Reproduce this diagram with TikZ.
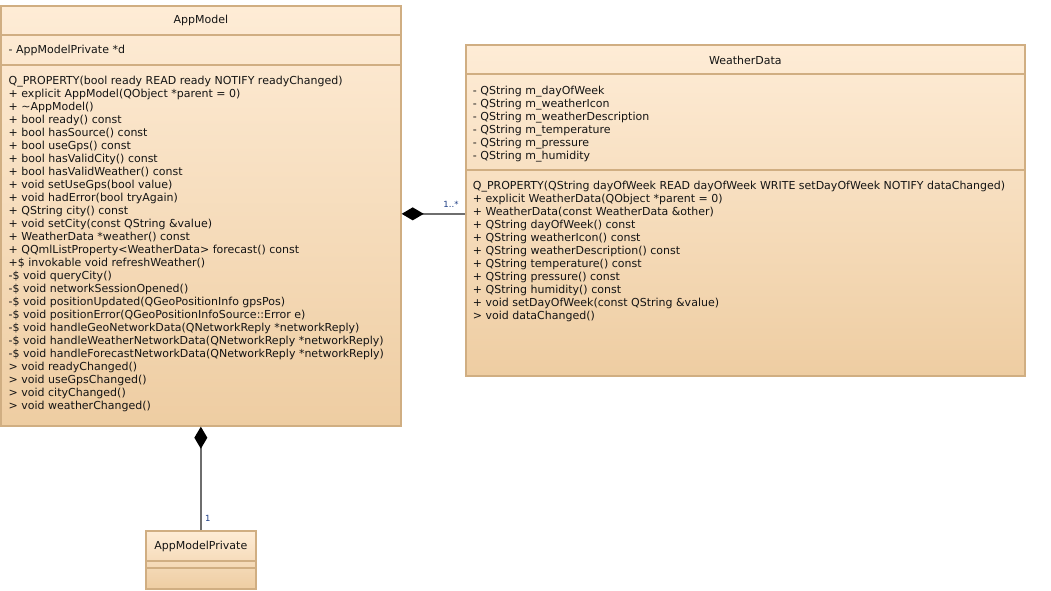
\documentclass[tikz,border=0pt]{standalone}
\usepackage{fontspec}
\setmainfont{DejaVu Sans}
\usetikzlibrary{arrows.meta,calc}

\definecolor{umlfilltop}{HTML}{FEECD6}
\definecolor{umlfillbot}{HTML}{EECDA2}
\definecolor{umlborder}{HTML}{D0AE82}
\definecolor{umltext}{HTML}{141414}
\definecolor{umllink}{HTML}{6E6E6E}
\definecolor{umlmult}{HTML}{1C3C84}

\tikzset{
  classbox/.style={draw=umlborder, line width=1.7pt, top color=umlfilltop,
    bottom color=umlfillbot, inner sep=0pt, anchor=north west},
  compsep/.style={draw=umlborder, line width=1.4pt},
  members/.style={anchor=north west, inner sep=0pt, align=left, text=umltext,
    font=\fontsize{11}{13}\selectfont},
  classname/.style={text=umltext, inner sep=0pt, font=\fontsize{11}{13}\selectfont},
  composition/.style={draw=umllink, line width=1.5pt,
    -{Diamond[length=22pt,width=13pt,color=black,fill=black]}},
  mult/.style={text=umlmult, inner sep=0pt, font=\fontsize{8.5}{10}\selectfont},
}

\begin{document}
\begin{tikzpicture}[x=1pt,y=-1pt]
\useasboundingbox (0,0) rectangle (1051,591);

% ---------- AppModel ----------
\node[classbox, minimum width=400pt, minimum height=420pt] (appmodel) at (0,5) {};
\draw[compsep] ([yshift=-30pt]appmodel.north west) -- ([yshift=-30pt]appmodel.north east);
\draw[compsep] ([yshift=-60pt]appmodel.north west) -- ([yshift=-60pt]appmodel.north east);
\node[classname] (appmodel-name) at ($(appmodel.north)+(0,15)$) {AppModel};
\node[members] (appmodel-attrs) at (8.5,45) {- AppModelPrivate *d};
\node[members] (appmodel-ops) at (8.5,76) {%
Q\_PROPERTY(bool ready READ ready NOTIFY readyChanged)\\
+ explicit AppModel(QObject *parent = 0)\\
+ \textasciitilde AppModel()\\
+ bool ready() const\\
+ bool hasSource() const\\
+ bool useGps() const\\
+ bool hasValidCity() const\\
+ bool hasValidWeather() const\\
+ void setUseGps(bool value)\\
+ void hadError(bool tryAgain)\\
+ QString city() const\\
+ void setCity(const QString \&value)\\
+ WeatherData *weather() const\\
+ QQmlListProperty<WeatherData> forecast() const\\
+\$ invokable void refreshWeather()\\
-\$ void queryCity()\\
-\$ void networkSessionOpened()\\
-\$ void positionUpdated(QGeoPositionInfo gpsPos)\\
-\$ void positionError(QGeoPositionInfoSource::Error e)\\
-\$ void handleGeoNetworkData(QNetworkReply *networkReply)\\
-\$ void handleWeatherNetworkData(QNetworkReply *networkReply)\\
-\$ void handleForecastNetworkData(QNetworkReply *networkReply)\\
> void readyChanged()\\
> void useGpsChanged()\\
> void cityChanged()\\
> void weatherChanged()};

% ---------- WeatherData ----------
\node[classbox, minimum width=559pt, minimum height=331pt] (weatherdata) at (465,44) {};
\draw[compsep] ([yshift=-30pt]weatherdata.north west) -- ([yshift=-30pt]weatherdata.north east);
\draw[compsep] ([yshift=-126pt]weatherdata.north west) -- ([yshift=-126pt]weatherdata.north east);
\node[classname] (weatherdata-name) at ($(weatherdata.north)+(0,16)$) {WeatherData};
\node[members] (weatherdata-attrs) at (472.7,85.7) {%
- QString m\_dayOfWeek\\
- QString m\_weatherIcon\\
- QString m\_weatherDescription\\
- QString m\_temperature\\
- QString m\_pressure\\
- QString m\_humidity};
\node[members] (weatherdata-ops) at (472.7,180.7) {%
Q\_PROPERTY(QString dayOfWeek READ dayOfWeek WRITE setDayOfWeek NOTIFY dataChanged)\\
+ explicit WeatherData(QObject *parent = 0)\\
+ WeatherData(const WeatherData \&other)\\
+ QString dayOfWeek() const\\
+ QString weatherIcon() const\\
+ QString weatherDescription() const\\
+ QString temperature() const\\
+ QString pressure() const\\
+ QString humidity() const\\
+ void setDayOfWeek(const QString \&value)\\
> void dataChanged()};

% ---------- AppModelPrivate ----------
\node[classbox, minimum width=110pt, minimum height=58pt] (amp) at (145,530) {};
\draw[compsep] ([yshift=-31pt]amp.north west) -- ([yshift=-31pt]amp.north east);
\draw[compsep] ([yshift=-38pt]amp.north west) -- ([yshift=-38pt]amp.north east);
\node[classname] (amp-name) at ($(amp.north)+(0,16)$) {AppModelPrivate};

% ---------- compositions ----------
\draw[composition] (amp.north) -- (appmodel.south);
\node[mult] (amp-mult) at ($(amp.north)+(7,-12)$) {1};

\coordinate (wd-link) at ([yshift=-3.5pt]weatherdata.west);
\draw[composition] (wd-link) -- (wd-link -| appmodel.east);
\node[mult] (wd-mult) at ($(wd-link)+(-14,-10)$) {1..*};
\end{tikzpicture}
\end{document}
